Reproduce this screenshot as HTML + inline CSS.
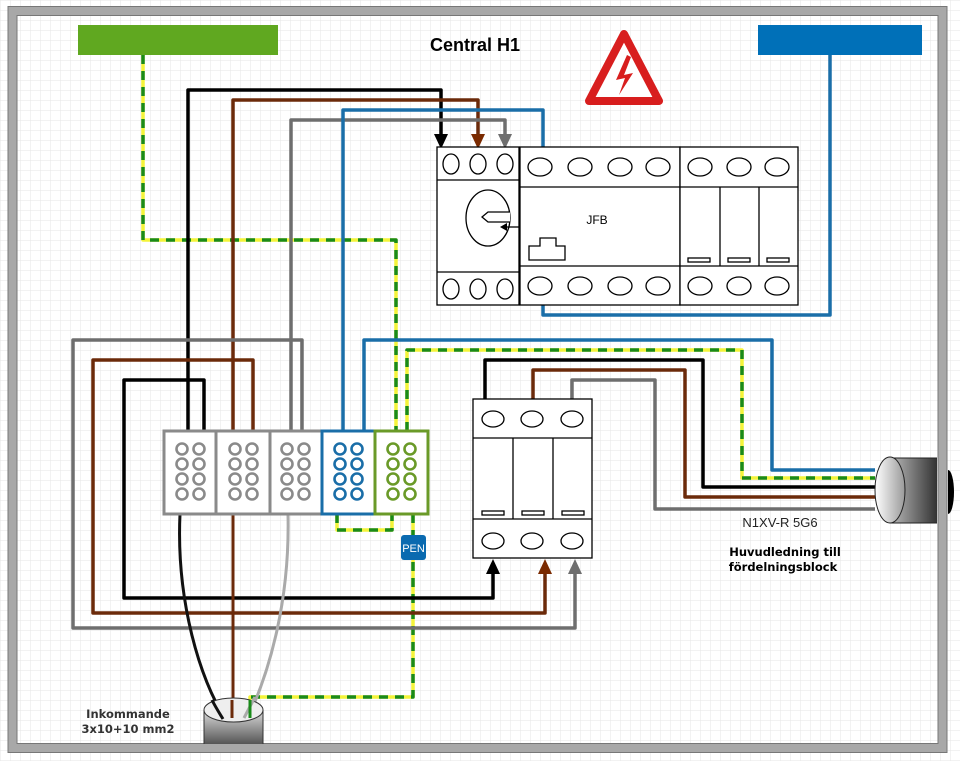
<!DOCTYPE html>
<html><head><meta charset="utf-8"><style>
html,body{margin:0;padding:0;background:#fff;}
svg{display:block;font-family:"Liberation Sans",sans-serif;}
</style></head><body>
<svg width="960" height="761" viewBox="0 0 960 761" xmlns="http://www.w3.org/2000/svg">
<defs>
<pattern id="g" width="10" height="10" patternUnits="userSpaceOnUse">
<path d="M10 0H0V10" fill="none" stroke="#e6e6e6" stroke-width="1"/>
</pattern>
<linearGradient id="cyl" x1="0" x2="1" y1="0" y2="0">
<stop offset="0" stop-color="#bbb"/><stop offset="1" stop-color="#333"/>
</linearGradient>
<linearGradient id="cap" x1="0" x2="1">
<stop offset="0" stop-color="#fff"/><stop offset="1" stop-color="#999"/>
</linearGradient>
<linearGradient id="cyl2" x1="0" x2="0" y1="0" y2="1">
<stop offset="0" stop-color="#ddd"/><stop offset="1" stop-color="#555"/>
</linearGradient>
</defs>
<rect width="960" height="761" fill="#fff"/>
<rect width="960" height="761" fill="url(#g)"/>
<rect x="12.5" y="11" width="930" height="737" fill="none" stroke="#a8a8a8" stroke-width="9"/>
<rect x="8" y="6.5" width="939" height="746" fill="none" stroke="#777" stroke-width="1"/>
<rect x="17" y="15.5" width="921" height="728" fill="none" stroke="#777" stroke-width="1"/>

<rect x="78" y="25" width="200" height="30" fill="#60a820"/>
<rect x="758" y="25" width="164" height="30" fill="#0070b8"/>
<text x="475" y="51" font-size="18" font-weight="bold" text-anchor="middle">Central H1</text>
<polygon points="624,34 659,101 589,101" fill="#fff" stroke="#d81e1e" stroke-width="8" stroke-linejoin="round"/>
<polygon points="627,55 616,80 625,78 619,95 633,73 624,75 631,57" fill="#d81e1e"/>

<g fill="none" stroke-linejoin="round" stroke-width="3.5">
<g stroke="#f4f43a"><path d="M143 55V240H396V431"/><path d="M407 431V350H742V478H875"/><path d="M413 514V697H250V715"/><path d="M337 514V530H392V514"/></g>
<g stroke="#1a8a1a" stroke-dasharray="9,7"><path d="M143 55V240H396V431"/><path d="M407 431V350H742V478H875"/><path d="M413 514V697H250V715"/><path d="M337 514V530H392V514"/></g>
<g stroke="#000"><path d="M188 431V90H441V140"/><path d="M204 431V380H124V598H493V568"/><path d="M485 399V360H703V487H875"/></g>
<g stroke="#6b2a0a"><path d="M233 431V100H478V140"/><path d="M253 431V360H93V613H545V568"/><path d="M533 399V370H685V497H875"/></g>
<g stroke="#6e6e6e"><path d="M291 431V120H505V140"/><path d="M302 431V340H73V628H575V568"/><path d="M572 399V380H655V509H875"/></g>
<g stroke="#1a6ea8"><path d="M343 431V110H543V147"/><path d="M364 431V340H772V470H875"/><path d="M543 305V315H830V55"/></g>
<path d="M180 514C176 600 200 680 225 718" stroke="#111" stroke-width="3"/>
<path d="M233 514V718" stroke="#6b2a0a" stroke-width="3"/>
<path d="M288 514C290 600 270 670 248 718" stroke="#aaa" stroke-width="3"/>
</g>
<polygon points="434,134 448,134 441,149" fill="#000"/>
<polygon points="471,134 485,134 478,149" fill="#7a2a00"/>
<polygon points="498,134 512,134 505,149" fill="#6e6e6e"/>
<polygon points="486,574 500,574 493,559" fill="#000"/>
<polygon points="538,574 552,574 545,559" fill="#7a2a00"/>
<polygon points="568,574 582,574 575,559" fill="#6e6e6e"/>

<g fill="#fff" stroke="#000" stroke-width="1.3">
<rect x="437" y="147" width="82" height="158"/>
<line x1="437" y1="180" x2="519" y2="180"/><line x1="437" y1="272" x2="519" y2="272"/>
<ellipse cx="451" cy="164" rx="8" ry="10"/><ellipse cx="478" cy="164" rx="8" ry="10"/><ellipse cx="505" cy="164" rx="8" ry="10"/>
<ellipse cx="451" cy="289" rx="8" ry="10"/><ellipse cx="478" cy="289" rx="8" ry="10"/><ellipse cx="505" cy="289" rx="8" ry="10"/>
<ellipse cx="488" cy="218" rx="22" ry="28"/>
<path d="M510 212H488L482 217L488 222H510"/>
<rect x="520" y="147" width="160" height="158"/>
<line x1="520" y1="187" x2="680" y2="187"/><line x1="520" y1="266" x2="680" y2="266"/>
<rect x="680" y="147" width="118" height="158"/>
<line x1="680" y1="187" x2="798" y2="187"/><line x1="680" y1="266" x2="798" y2="266"/>
<line x1="720" y1="187" x2="720" y2="266"/><line x1="759" y1="187" x2="759" y2="266"/>
<rect x="688" y="258" width="22" height="4"/><rect x="728" y="258" width="22" height="4"/><rect x="767" y="258" width="22" height="4"/>
<path d="M529 260V246H540V238H556V246H565V260Z"/>
</g>
<g fill="none" stroke="#000" stroke-width="1.3">
<ellipse cx="540" cy="167" rx="12" ry="9"/><ellipse cx="580" cy="167" rx="12" ry="9"/><ellipse cx="620" cy="167" rx="12" ry="9"/><ellipse cx="658" cy="167" rx="12" ry="9"/>
<ellipse cx="700" cy="167" rx="12" ry="9"/><ellipse cx="739" cy="167" rx="12" ry="9"/><ellipse cx="777" cy="167" rx="12" ry="9"/>
<ellipse cx="540" cy="286" rx="12" ry="9"/><ellipse cx="580" cy="286" rx="12" ry="9"/><ellipse cx="620" cy="286" rx="12" ry="9"/><ellipse cx="658" cy="286" rx="12" ry="9"/>
<ellipse cx="700" cy="286" rx="12" ry="9"/><ellipse cx="739" cy="286" rx="12" ry="9"/><ellipse cx="777" cy="286" rx="12" ry="9"/>
<line x1="520" y1="227" x2="505" y2="227"/>
</g>
<polygon points="500,227 507,223 507,231" fill="#000"/>
<text x="597" y="224" font-size="12" text-anchor="middle">JFB</text>

<g fill="#fff" stroke="#000" stroke-width="1.3">
<rect x="473" y="399" width="119" height="159"/>
<line x1="473" y1="438" x2="592" y2="438"/><line x1="473" y1="519" x2="592" y2="519"/>
<line x1="513" y1="438" x2="513" y2="519"/><line x1="553" y1="438" x2="553" y2="519"/>
<rect x="482" y="511" width="22" height="4"/><rect x="522" y="511" width="22" height="4"/><rect x="562" y="511" width="22" height="4"/>
<ellipse cx="493" cy="419" rx="11" ry="8"/><ellipse cx="532" cy="419" rx="11" ry="8"/><ellipse cx="572" cy="419" rx="11" ry="8"/>
<ellipse cx="493" cy="541" rx="11" ry="8"/><ellipse cx="532" cy="541" rx="11" ry="8"/><ellipse cx="572" cy="541" rx="11" ry="8"/>
</g>

<g stroke-width="3" fill="#fff">
<rect x="164" y="431" width="52" height="83" stroke="#8a8a8a"/>
<rect x="216" y="431" width="54" height="83" stroke="#8a8a8a"/>
<rect x="270" y="431" width="52" height="83" stroke="#8a8a8a"/>
<rect x="322" y="431" width="53" height="83" stroke="#1a6ea8"/>
<rect x="375" y="431" width="53" height="83" stroke="#6a9a28"/>
</g>
<g fill="none" stroke-width="2.6">
<g stroke="#8a8a8a">
<circle cx="182" cy="449" r="5.5"/><circle cx="199" cy="449" r="5.5"/><circle cx="182" cy="464" r="5.5"/><circle cx="199" cy="464" r="5.5"/><circle cx="182" cy="479" r="5.5"/><circle cx="199" cy="479" r="5.5"/><circle cx="182" cy="494" r="5.5"/><circle cx="199" cy="494" r="5.5"/>
<circle cx="235" cy="449" r="5.5"/><circle cx="252" cy="449" r="5.5"/><circle cx="235" cy="464" r="5.5"/><circle cx="252" cy="464" r="5.5"/><circle cx="235" cy="479" r="5.5"/><circle cx="252" cy="479" r="5.5"/><circle cx="235" cy="494" r="5.5"/><circle cx="252" cy="494" r="5.5"/>
<circle cx="287" cy="449" r="5.5"/><circle cx="304" cy="449" r="5.5"/><circle cx="287" cy="464" r="5.5"/><circle cx="304" cy="464" r="5.5"/><circle cx="287" cy="479" r="5.5"/><circle cx="304" cy="479" r="5.5"/><circle cx="287" cy="494" r="5.5"/><circle cx="304" cy="494" r="5.5"/>
</g>
<g stroke="#1a6ea8">
<circle cx="340" cy="449" r="5.5"/><circle cx="357" cy="449" r="5.5"/><circle cx="340" cy="464" r="5.5"/><circle cx="357" cy="464" r="5.5"/><circle cx="340" cy="479" r="5.5"/><circle cx="357" cy="479" r="5.5"/><circle cx="340" cy="494" r="5.5"/><circle cx="357" cy="494" r="5.5"/>
</g>
<g stroke="#6a9a28">
<circle cx="393" cy="449" r="5.5"/><circle cx="410" cy="449" r="5.5"/><circle cx="393" cy="464" r="5.5"/><circle cx="410" cy="464" r="5.5"/><circle cx="393" cy="479" r="5.5"/><circle cx="410" cy="479" r="5.5"/><circle cx="393" cy="494" r="5.5"/><circle cx="410" cy="494" r="5.5"/>
</g>
</g>
<rect x="401" y="535" width="25" height="25" rx="3" fill="#0a6ab0"/>
<text x="413.5" y="552" font-size="11" fill="#fff" text-anchor="middle">PEN</text>

<path d="M948 470A6 22 0 0 1 948 514Z" fill="#000"/>
<rect x="890" y="458" width="47" height="65" fill="url(#cyl)"/>
<line x1="890" y1="458" x2="937" y2="458" stroke="#222"/><line x1="890" y1="523" x2="937" y2="523" stroke="#222"/>
<ellipse cx="890" cy="490" rx="15" ry="33" fill="url(#cap)" stroke="#222"/>
<text x="780" y="527" font-size="13" text-anchor="middle" fill="#222">N1XV-R 5G6</text>
<text x="785" y="556" font-size="11.5" font-weight="bold" text-anchor="middle" font-family="DejaVu Sans, sans-serif">Huvudledning till</text>
<text x="783" y="571" font-size="11.5" font-weight="bold" text-anchor="middle" font-family="DejaVu Sans, sans-serif">fördelningsblock</text>

<rect x="204" y="710" width="59" height="34" fill="url(#cyl2)"/>
<line x1="204" y1="710" x2="204" y2="744" stroke="#333"/><line x1="263" y1="710" x2="263" y2="744" stroke="#333"/>
<ellipse cx="233.5" cy="710" rx="29.5" ry="12" fill="#eee" stroke="#333"/>
<path d="M212 700C216 708 220 714 223 719" stroke="#111" stroke-width="3" fill="none"/>
<line x1="232" y1="700" x2="232" y2="718" stroke="#6b2a0a" stroke-width="3"/>
<path d="M255 697L244 718" stroke="#aaa" stroke-width="3" fill="none"/>
<path d="M250 700V718" stroke="#1a8a1a" stroke-width="3" fill="none"/>
<text x="128" y="718" font-size="11.5" font-weight="bold" text-anchor="middle" fill="#333" font-family="DejaVu Sans, sans-serif">Inkommande</text>
<text x="128" y="733" font-size="11.5" font-weight="bold" text-anchor="middle" fill="#333" font-family="DejaVu Sans, sans-serif">3x10+10 mm2</text>
</svg>
</body></html>
